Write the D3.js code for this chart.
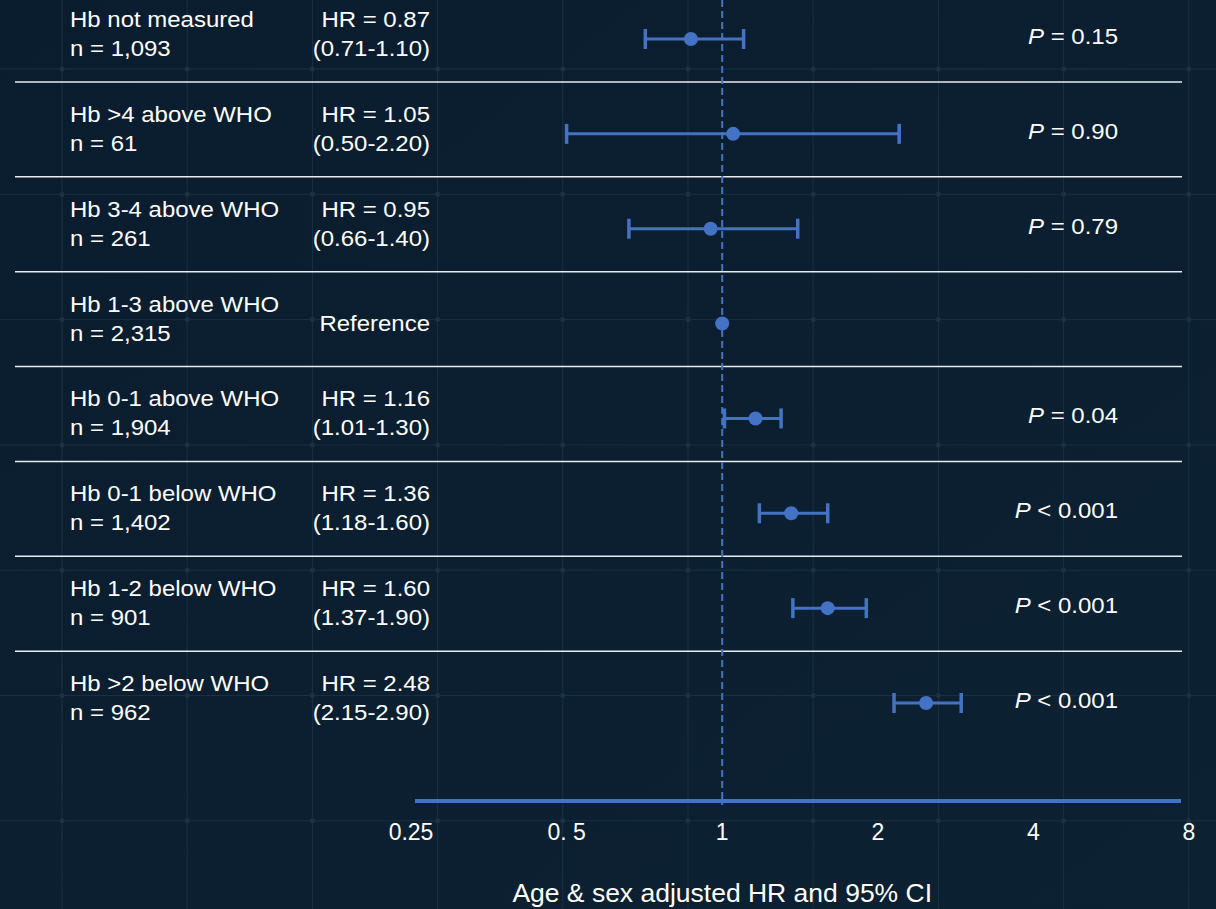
<!DOCTYPE html>
<html>
<head>
<meta charset="utf-8">
<script src="https://cdn.jsdelivr.net/npm/d3@7"></script>
<style>
  body{margin:0;background:#0b1f30;}
  text{font-family:"Liberation Sans",Arial,sans-serif;fill:#ffffff;}
</style>
</head>
<body>
<div id="chart"></div>
<script>
//data
var groups=["Hb not measured","Hb >4 above WHO","Hb 3-4 above WHO","Hb 1-3 above WHO",
    "Hb 0-1 above WHO","Hb 0-1 below WHO","Hb 1-2 below WHO","Hb >2 below WHO"];
var counts=["1,093","61","261","2,315","1,904","1,402","901","962"];
var hr=[0.87,1.05,0.95,1,1.16,1.36,1.60,2.48];
var lower=[0.71,0.50,0.66,null,1.01,1.18,1.37,2.15];
var upper=[1.10,2.20,1.40,null,1.30,1.60,1.90,2.90];
var pvals=["= 0.15","= 0.90","= 0.79",null,"= 0.04","< 0.001","< 0.001","< 0.001"];
var tickVals=[0.25,0.5,1,2,4,8];
var tickLabels=["0.25","0. 5","1","2","4","8"];

var rows=groups.map(function(g,i){
    return {name:g,n:counts[i],hr:hr[i],lo:lower[i],hi:upper[i],p:pvals[i]};
});

//set size
var svgWidth=1216;
var svgHeight=909;
var blue="#4472c4";
//text in the picture is slightly stretched sideways
var sx=1.09;

var svg=d3.select("#chart")
    .append("svg")
    .attr("width",svgWidth)
    .attr("height",svgHeight);

//background
var defs=svg.append("defs");
var grad=defs.append("linearGradient")
    .attr("id","bg")
    .attr("x1","0").attr("y1","0").attr("x2","1").attr("y2","1");
grad.append("stop").attr("offset","0%").attr("stop-color","#0a1d2e");
grad.append("stop").attr("offset","100%").attr("stop-color","#0c2132");
svg.append("rect")
    .attr("width",svgWidth)
    .attr("height",svgHeight)
    .attr("fill","url(#bg)");

//decorative grid
var gridX=d3.range(0,10).map(function(i){return 62+i*125.2;});
var gridY=d3.range(0,7).map(function(i){return 69+i*125.3;});
var grid=svg.append("g");
grid.selectAll(".gx").data(gridX).enter().append("line")
    .attr("x1",d=>d).attr("x2",d=>d).attr("y1",0).attr("y2",svgHeight)
    .attr("stroke","#1a3042").attr("stroke-width",1);
grid.selectAll(".gy").data(gridY).enter().append("line")
    .attr("y1",d=>d).attr("y2",d=>d).attr("x1",0).attr("x2",svgWidth)
    .attr("stroke","#1a3042").attr("stroke-width",1);
gridX.forEach(function(x){
    gridY.forEach(function(y){
        grid.append("circle").attr("cx",x).attr("cy",y).attr("r",2.5).attr("fill","#1c3244");
    });
});

//scales
var xScale=d3.scaleLog()
    .base(2)
    .domain([0.25,8])
    .range([411,1189]);

var yScale=d3.scalePoint()
    .domain(d3.range(rows.length))
    .range([39,703]);

//separator lines
svg.selectAll(".sep")
    .data(d3.range(rows.length-1))
    .enter()
    .append("line")
    .attr("x1",15)
    .attr("x2",1182)
    .attr("y1",d=>yScale(d)+43)
    .attr("y2",d=>yScale(d)+43)
    .attr("stroke","#e8ecef")
    .attr("stroke-width",1.5);

//reference dashed line
svg.append("line")
    .attr("x1",xScale(1))
    .attr("x2",xScale(1))
    .attr("y1",0)
    .attr("y2",805)
    .attr("stroke",blue)
    .attr("stroke-width",2)
    .attr("stroke-dasharray","7,4");

//x axis line
svg.append("line")
    .attr("x1",xScale(0.25)+4)
    .attr("x2",xScale(8)-8)
    .attr("y1",801)
    .attr("y2",801)
    .attr("stroke",blue)
    .attr("stroke-width",4);

//tick labels
svg.selectAll(".tick")
    .data(tickVals)
    .enter()
    .append("text")
    .attr("transform",d=>`translate(${xScale(d)},840)`)
    .attr("text-anchor","middle")
    .style("font-size","23px")
    .text((d,i)=>tickLabels[i]);

//axis title
svg.append("text")
    .attr("transform",`translate(${xScale(1)},902) scale(1.06,1)`)
    .attr("text-anchor","middle")
    .style("font-size","25px")
    .text("Age & sex adjusted HR and 95% CI");

//rows
var rowGroup=svg.selectAll(".row")
    .data(rows)
    .enter()
    .append("g")
    .attr("transform",(d,i)=>`translate(0,${yScale(i)})`);

//error bars
var ci=rowGroup.filter(d=>d.lo!==null);
ci.append("line")
    .attr("x1",d=>xScale(d.lo))
    .attr("x2",d=>xScale(d.hi))
    .attr("stroke",blue)
    .attr("stroke-width",3);
ci.append("line")
    .attr("x1",d=>xScale(d.lo)).attr("x2",d=>xScale(d.lo))
    .attr("y1",-10).attr("y2",10)
    .attr("stroke",blue).attr("stroke-width",3.5);
ci.append("line")
    .attr("x1",d=>xScale(d.hi)).attr("x2",d=>xScale(d.hi))
    .attr("y1",-10).attr("y2",10)
    .attr("stroke",blue).attr("stroke-width",3.5);

//points
rowGroup.append("circle")
    .attr("cx",d=>xScale(d.hr))
    .attr("cy",0)
    .attr("r",7)
    .attr("fill",blue);

//helper for stretched text
function addText(sel,x,y,anchor){
    return sel.append("text")
        .attr("transform",`translate(${x},${y}) scale(${sx},1)`)
        .attr("text-anchor",anchor)
        .style("font-size","22px");
}

//labels
addText(rowGroup,70,-12,"start").text(d=>d.name);
addText(rowGroup,70,17,"start").text(d=>"n = "+d.n);

//hr text
addText(rowGroup.filter(d=>d.lo!==null),430,-12,"end")
    .text(d=>"HR = "+d.hr.toFixed(2));
addText(rowGroup.filter(d=>d.lo!==null),430,17,"end")
    .text(d=>"("+d.lo.toFixed(2)+"-"+d.hi.toFixed(2)+")");
addText(rowGroup.filter(d=>d.lo===null),430,7,"end")
    .text("Reference");

//p values
var pText=addText(rowGroup.filter(d=>d.p!==null),1118,5,"end");
pText.append("tspan").style("font-style","italic").text("P");
pText.append("tspan").text(d=>" "+d.p);
</script>
</body>
</html>
